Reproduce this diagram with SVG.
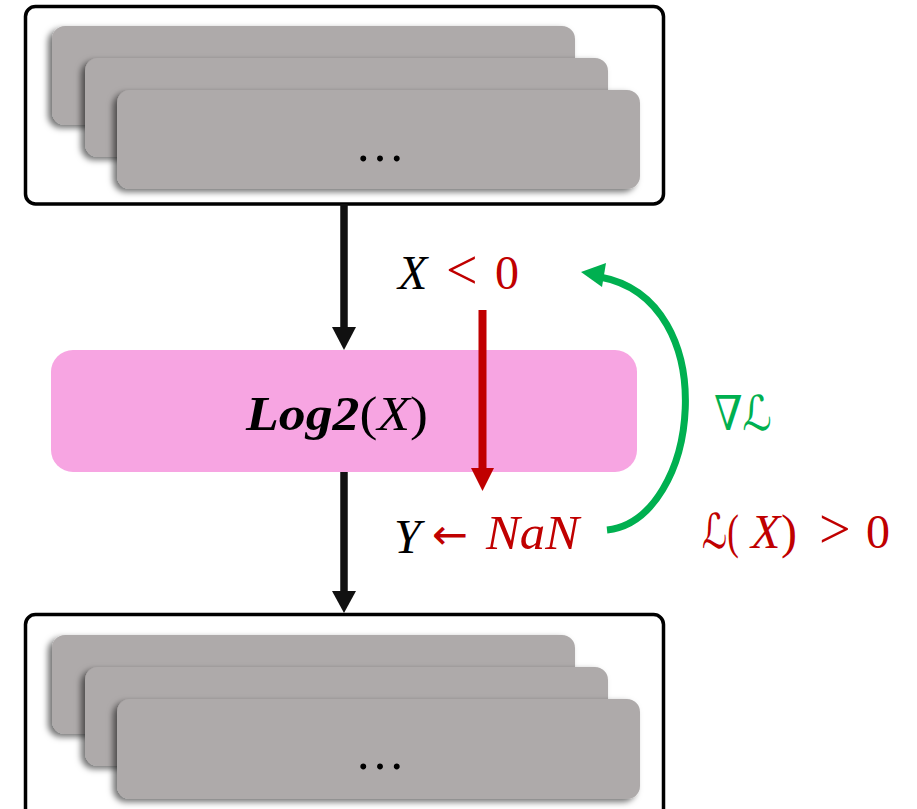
<svg xmlns="http://www.w3.org/2000/svg" width="917" height="809" viewBox="0 0 917 809">
  <defs>
    <filter id="cardShadow" x="-10%" y="-20%" width="120%" height="140%">
      <feDropShadow dx="-4" dy="3" stdDeviation="3" flood-color="#000" flood-opacity="0.55"/>
    </filter>
  </defs>
  <style>
    .frame { fill: #fff; stroke: #000; stroke-width: 3.5; }
    .card { fill: #AEAAAA; filter: url(#cardShadow); }
    .dots { font-family: "Liberation Serif", serif; font-size: 50px; fill: #000; text-anchor: middle; }
    .math { font-family: "Liberation Serif", "DejaVu Serif", "DejaVu Sans", serif; font-size: 48px; }
    .rel { font-family: "Liberation Serif", serif; font-size: 56px; }
    .it { font-style: italic; }
    .blk { fill: #000; }
    .red { fill: #C00000; }
    .grn { fill: #00B050; }
    .wire { fill: none; stroke: #111; stroke-width: 7.5; }
    .head { fill: #111; }
  </style>

  <!-- input stack -->
  <g id="input-stack">
    <rect class="frame" x="25.5" y="6.5" width="638" height="197.5" rx="10"/>
    <rect class="card" x="52" y="26" width="523" height="99" rx="13"/>
    <rect class="card" x="85" y="58" width="523" height="99" rx="13"/>
    <rect class="card" x="117" y="90" width="523" height="99" rx="13"/>
    <text class="dots" x="380" y="161">…</text>
  </g>

  <!-- log2 operator -->
  <g id="log2-node">
    <rect x="51" y="350" width="586" height="122" rx="22" fill="#F7A5E2"/>
    <text class="math blk" x="246" y="430" textLength="182" lengthAdjust="spacingAndGlyphs"><tspan font-weight="bold" font-style="italic">Log2</tspan><tspan>(</tspan><tspan font-style="italic">X</tspan><tspan>)</tspan></text>
  </g>

  <!-- output stack -->
  <g id="output-stack">
    <rect class="frame" x="25.5" y="614.5" width="638" height="205" rx="10"/>
    <rect class="card" x="52" y="635" width="523" height="99" rx="13"/>
    <rect class="card" x="85" y="667" width="523" height="99" rx="13"/>
    <rect class="card" x="117" y="699" width="523" height="100" rx="13"/>
    <text class="dots" x="380" y="769">…</text>
  </g>

  <!-- connectors -->
  <g id="connectors">
    <line class="wire" x1="344" y1="204" x2="344" y2="329"/>
    <polygon class="head" points="332,327 356,327 344,350"/>
    <line class="wire" x1="344" y1="472" x2="344" y2="593"/>
    <polygon class="head" points="332,591 356,591 344,613"/>
    <line x1="482.5" y1="310" x2="482.5" y2="470" stroke="#C00000" stroke-width="8"/>
    <polygon points="471,468 494,468 482.5,491" fill="#C00000"/>
    <path d="M607,530 C700,520 725,300 600,277" fill="none" stroke="#00B050" stroke-width="7"/>
    <polygon points="581,272 606,263 602,287" fill="#00B050"/>
  </g>

  <!-- labels -->
  <g id="labels">
    <text class="math it blk" x="398" y="289">X</text>
    <text class="rel red" x="446" y="289">&lt;</text>
    <text class="math red" x="495" y="289">0</text>

    <text class="math it blk" x="394" y="553">Y</text>
    <text class="red" x="432" y="549" font-family="DejaVu Sans, sans-serif" font-size="42" textLength="36" lengthAdjust="spacingAndGlyphs">←</text>
    <text class="math it red" x="486" y="549" textLength="93" lengthAdjust="spacingAndGlyphs">NaN</text>

    <text class="math grn" x="714" y="430" textLength="58" lengthAdjust="spacingAndGlyphs">∇ℒ</text>

    <text class="math red" x="702" y="548" textLength="37" lengthAdjust="spacingAndGlyphs">ℒ(</text>
    <text class="math it red" x="751" y="548">X</text>
    <text class="math red" x="781" y="548">)</text>
    <text class="rel red" x="819" y="548">&gt;</text>
    <text class="math red" x="866" y="548">0</text>
  </g>
</svg>
